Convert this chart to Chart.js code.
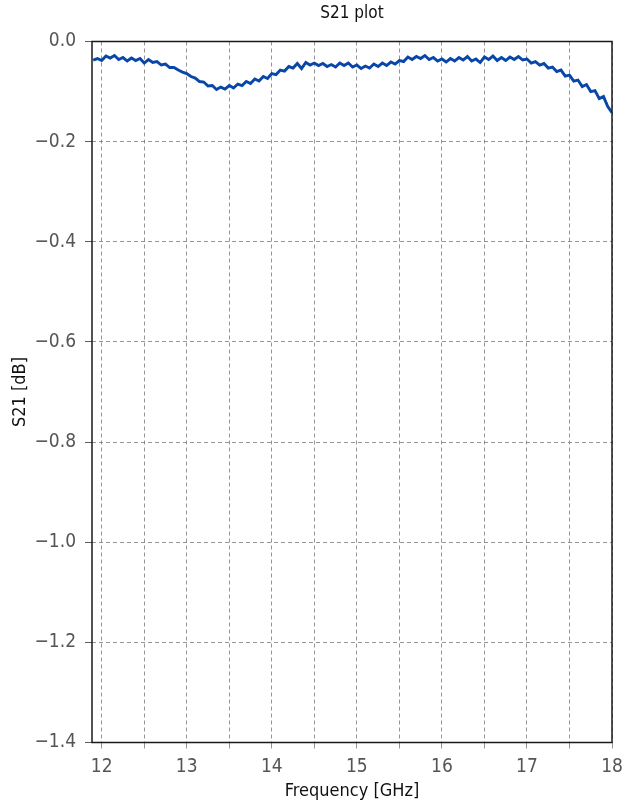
<!DOCTYPE html>
<html>
<head>
<meta charset="utf-8">
<script src="https://cdn.jsdelivr.net/npm/chart.js@4.4.1/dist/chart.umd.min.js"></script>
<style>
  html, body { margin: 0; padding: 0; background: #fff; }
  #wrap { width: 636px; height: 807px; }
</style>
</head>
<body>
<div id="wrap"><canvas id="s21Chart" width="636" height="807"></canvas></div>
<script>
// S21 plot

const freqGHz = [
  11.90, 11.95, 12.00, 12.05, 12.10, 12.15, 12.20, 12.25, 12.30, 12.35,
  12.40, 12.45, 12.50, 12.55, 12.60, 12.65, 12.70, 12.75, 12.80, 12.85,
  12.90, 12.95, 13.00, 13.05, 13.10, 13.15, 13.20, 13.25, 13.30, 13.35,
  13.40, 13.45, 13.50, 13.55, 13.60, 13.65, 13.70, 13.75, 13.80, 13.85,
  13.90, 13.95, 14.00, 14.05, 14.10, 14.15, 14.20, 14.25, 14.30, 14.35,
  14.40, 14.45, 14.50, 14.55, 14.60, 14.65, 14.70, 14.75, 14.80, 14.85,
  14.90, 14.95, 15.00, 15.05, 15.10, 15.15, 15.20, 15.25, 15.30, 15.35,
  15.40, 15.45, 15.50, 15.55, 15.60, 15.65, 15.70, 15.75, 15.80, 15.85,
  15.90, 15.95, 16.00, 16.05, 16.10, 16.15, 16.20, 16.25, 16.30, 16.35,
  16.40, 16.45, 16.50, 16.55, 16.60, 16.65, 16.70, 16.75, 16.80, 16.85,
  16.90, 16.95, 17.00, 17.05, 17.10, 17.15, 17.20, 17.25, 17.30, 17.35,
  17.40, 17.45, 17.50, 17.55, 17.60, 17.65, 17.70, 17.75, 17.80, 17.85,
  17.90, 17.95, 18.00
];

const s21dB = [
  -0.037, -0.034, -0.038, -0.029, -0.033, -0.028, -0.036, -0.032, -0.039, -0.033,
  -0.038, -0.034, -0.043, -0.036, -0.042, -0.040, -0.047, -0.045, -0.052, -0.052,
  -0.057, -0.061, -0.064, -0.070, -0.073, -0.080, -0.081, -0.089, -0.088, -0.096,
  -0.091, -0.095, -0.088, -0.093, -0.085, -0.088, -0.080, -0.084, -0.075, -0.079,
  -0.070, -0.074, -0.064, -0.066, -0.057, -0.059, -0.050, -0.053, -0.044, -0.054,
  -0.042, -0.047, -0.043, -0.048, -0.044, -0.050, -0.046, -0.051, -0.043, -0.048,
  -0.043, -0.051, -0.047, -0.054, -0.049, -0.053, -0.045, -0.050, -0.043, -0.048,
  -0.041, -0.045, -0.038, -0.040, -0.031, -0.036, -0.030, -0.034, -0.028, -0.036,
  -0.032, -0.039, -0.035, -0.041, -0.034, -0.039, -0.032, -0.037, -0.030, -0.039,
  -0.035, -0.042, -0.031, -0.036, -0.029, -0.038, -0.032, -0.038, -0.031, -0.036,
  -0.030, -0.037, -0.035, -0.043, -0.040, -0.047, -0.044, -0.053, -0.051, -0.060,
  -0.057, -0.069, -0.067, -0.079, -0.077, -0.090, -0.086, -0.100, -0.098, -0.114,
  -0.110, -0.130, -0.142
];

const xTicks = [12, 12.5, 13, 13.5, 14, 14.5, 15, 15.5, 16, 16.5, 17, 17.5, 18];
const yTicks = [0, -0.2, -0.4, -0.6, -0.8, -1.0, -1.2, -1.4];

const FONT = "'Liberation Sans Narrow', 'DejaVu Sans Condensed', 'Roboto', sans-serif";

// frame round the plot area plus titles, like the original figure
const framePlugin = {
  id: 'frame',
  afterDraw(chart) {
    const { ctx, chartArea: a } = chart;
    ctx.save();
    ctx.strokeStyle = '#1a1a1a';
    ctx.lineWidth = 1.5;
    ctx.strokeRect(a.left, a.top, a.right - a.left, a.bottom - a.top);

    ctx.fillStyle = '#111';
    ctx.textAlign = 'center';
    ctx.textBaseline = 'middle';
    ctx.font = '17px ' + FONT;
    ctx.fillText('S21 plot', (a.left + a.right) / 2, 14);
    ctx.font = '18px ' + FONT;
    ctx.fillText('Frequency [GHz]', (a.left + a.right) / 2, 791);

    ctx.translate(20, (a.top + a.bottom) / 2);
    ctx.rotate(-Math.PI / 2);
    ctx.fillText('S21 [dB]', 0, 0);
    ctx.restore();
  }
};

const ctx = document.getElementById('s21Chart').getContext('2d');
new Chart(ctx, {
  type: 'line',
  data: {
    datasets: [{
      label: 'S21',
      data: freqGHz.map((f, i) => ({ x: f, y: s21dB[i] })),
      borderColor: '#0846a8',
      borderWidth: 2.9,
      pointRadius: 0,
      tension: 0,
      fill: false
    }]
  },
  options: {
    responsive: false,
    animation: false,
    layout: { padding: { top: 41.5, right: 24, bottom: 0, left: 0 } },
    plugins: {
      legend: { display: false },
      title: { display: false },
      tooltip: { enabled: false }
    },
    scales: {
      x: {
        type: 'linear',
        min: 11.886,
        max: 18,
        afterBuildTicks: s => { s.ticks = xTicks.map(v => ({ value: v })); },
        afterFit: s => { s.height = 64.5; },
        ticks: {
          color: '#555',
          font: { family: FONT, size: 19 },
          padding: 7,
          maxRotation: 0,
          autoSkip: false,
          callback: v => (Number.isInteger(v) ? String(v) : '')
        },
        grid: { color: '#7a7a7a', lineWidth: 0.8, tickLength: 6, tickColor: '#7a7a7a' },
        border: { display: false, dash: [4, 3] }
      },
      y: {
        type: 'linear',
        min: -1.4,
        max: 0,
        afterBuildTicks: s => { s.ticks = yTicks.map(v => ({ value: v })); },
        afterFit: s => { s.width = 92; },
        ticks: {
          color: '#555',
          font: { family: FONT, size: 19 },
          padding: 9,
          autoSkip: false,
          callback: v => (v === 0 ? '0.0' : v.toFixed(1).replace('-', '\u2212'))
        },
        grid: { color: '#7a7a7a', lineWidth: 0.8, tickLength: 7, tickColor: '#333' },
        border: { display: false, dash: [4, 3] }
      }
    }
  },
  plugins: [framePlugin]
});
</script>
</body>
</html>
